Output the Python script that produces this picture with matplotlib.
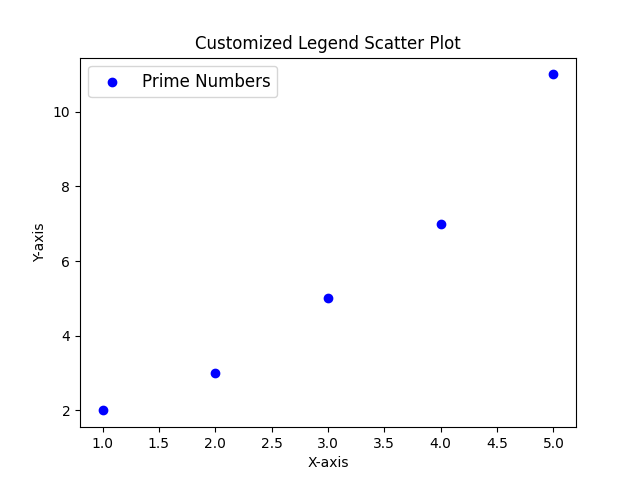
import matplotlib
matplotlib.use("Agg")
import matplotlib.pyplot as plt

# data
x_values = [1, 2, 3, 4, 5]
primes = [2, 3, 5, 7, 11]

fig, ax = plt.subplots(figsize=(6.4, 4.8), dpi=100)
ax.scatter(x_values, primes, color='blue', label='Prime Numbers')

ax.set_title('Customized Legend Scatter Plot')
ax.set_xlabel('X-axis')
ax.set_ylabel('Y-axis')
ax.legend(loc='upper left', fontsize=12)

plt.savefig('out.png', dpi=100)
